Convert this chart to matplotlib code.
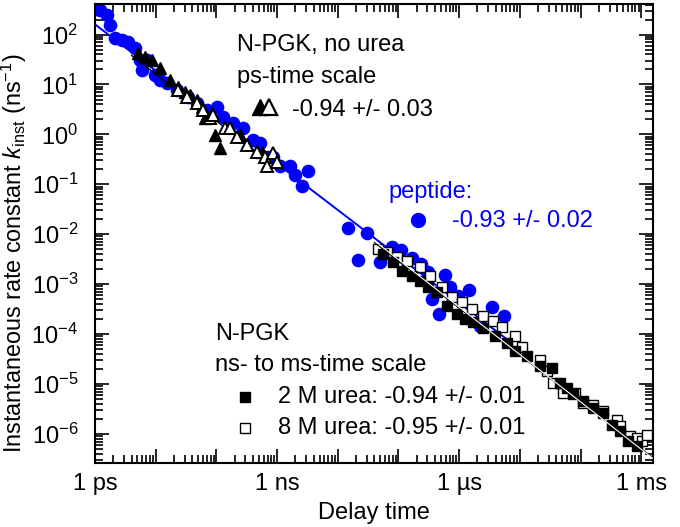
import numpy as np
import matplotlib
matplotlib.use("Agg")
import matplotlib.pyplot as plt
from matplotlib.ticker import FixedLocator, FuncFormatter, LogLocator, NullFormatter

plt.rcParams['font.family'] = ['Liberation Sans', 'DejaVu Sans']
plt.rcParams['mathtext.fontset'] = 'custom'
plt.rcParams['mathtext.rm'] = 'Liberation Sans'
plt.rcParams['mathtext.it'] = 'Liberation Sans:italic'
plt.rcParams['mathtext.default'] = 'regular'
plt.rcParams['axes.unicode_minus'] = False

# ---- data (time in ns, rate constant in ns^-1) ----
pep_t = [1.05e-3, 1.21e-3, 1.58e-3, 1.77e-3, 2.13e-3, 2.79e-3, 3.5e-3, 4.56e-3, 5.51e-3, 5.94e-3,
         7.19e-3, 9.73e-3, 1.18e-2, 1.53e-2, 2.24e-2, 3.4e-2, 4.79e-2, 7.0e-2, 0.102, 0.128,
         0.188, 0.274, 0.40, 0.52, 0.71, 0.855, 1.12, 1.63, 1.97, 3.23,
         2.57, 14.7, 30.3, 21.5, 49.5, 78, 110, 167, 235, 306,
         583, 356, 465, 705, 955, 1450, 3470, 5470, 2200]
pep_k = [330, 305, 242, 153, 84, 77, 70, 53, 31, 19.4,
         31, 15.5, 12.3, 10.7, 7.8, 5.6, 4.3, 3.1, 3.55, 2.25,
         1.71, 1.36, 0.78, 0.68, 0.36, 0.36, 0.228, 0.228, 0.157, 0.181,
         0.091, 0.0132, 0.0105, 3.05e-3, 2.78e-3, 5.5e-3, 4.8e-3, 3.3e-3, 2.5e-3, 1.76e-3,
         1.53e-3, 5.1e-4, 2.56e-4, 8.8e-4, 5.85e-4, 7.7e-4, 3.4e-4, 2.33e-4, 1.48e-4]

ps_filled_t = [5.1e-3, 6.67e-3, 8.7e-3, 1.18e-2, 1.72e-2, 2.33e-2, 3.04e-2, 3.67e-2, 4.79e-2, 5.8e-2,
               6.5e-2, 9.5e-2, 0.115, 8.5e-2, 0.245, 0.56]
ps_filled_k = [42.4, 35.3, 30.8, 21.3, 12.3, 8.9, 7.1, 6.2, 4.9, 3.55,
               2.15, 0.99, 0.54, 2.7, 0.99, 0.45]

ps_open_t = [2.33e-2, 3.28e-2, 4.79e-2, 6.0e-2, 7.85e-2, 8.8e-2, 0.139, 0.168, 0.218, 0.319,
             0.467, 0.632, 0.68, 0.855, 1.0]
ps_open_k = [7.8, 5.6, 4.3, 3.1, 2.15, 2.47, 1.36, 1.36, 0.90, 0.62,
             0.45, 0.36, 0.228, 0.43, 0.286]

urea2_t = [55.6, 81, 114, 167, 226, 306, 431, 630, 920, 1250,
           1690, 2470, 3890, 6130, 8300, 13100, 21400, 33800, 45800, 59700,
           75000, 1.1e5, 1.6e5, 2.34e5, 3.29e5, 4.46e5, 6.0e5, 8.5e5]
urea2_k = [4.0e-3, 2.78e-3, 1.84e-3, 1.46e-3, 1.16e-3, 8.8e-4, 7.0e-4, 3.7e-4, 2.56e-4, 2.04e-4,
           1.77e-4, 1.29e-4, 9.3e-5, 6.5e-5, 4.5e-5, 3.56e-5, 2.25e-5, 2.05e-5, 1.03e-5, 8.2e-6,
           6.2e-6, 4.5e-6, 3.3e-6, 2.6e-6, 1.5e-6, 1.14e-6, 7.2e-7, 5.7e-7]

urea8_t = [45.9, 64.6, 94.4, 138, 226, 330, 521, 760, 1110, 1630,
           2470, 3600, 5070, 8300, 10800, 21400, 27900, 35100, 51300, 80900,
           1.1e5, 1.6e5, 2.34e5, 3.98e5, 4.46e5, 6.5e5, 8.5e5, 1.03e6, 1.24e6]
urea8_k = [5.06e-3, 4.4e-3, 3.5e-3, 2.9e-3, 2.2e-3, 1.46e-3, 8.8e-4, 5.6e-4, 4.4e-4, 3.2e-4,
           2.33e-4, 1.86e-4, 1.41e-4, 9.3e-5, 5.6e-5, 2.96e-5, 1.79e-5, 1.03e-5, 6.5e-6, 6.5e-6,
           4.1e-6, 3.8e-6, 2.9e-6, 1.9e-6, 1.44e-6, 9.1e-7, 8.3e-7, 7.2e-7, 9.5e-7]

# power-law fits k = A * t^slope  (A, slope, t_start, t_end)
fit_pep = (0.26, -0.93, 1e-3, 6e3)
fit_ps = (0.213, -0.94, 4e-3, 1.0)
fit_u2 = (0.219, -0.94, 40, 3e6)
fit_u8 = (0.245, -0.95, 40, 3e6)

xtick_vals = [1e-3, 1, 1e3, 1e6]
xtick_labels = ['1 ps', '1 ns', '1 \u00b5s', '1 ms']

BLUE = '#0000ff'
FS = 17

fig = plt.figure(figsize=(6.8, 5.27), dpi=100)
ax = fig.add_axes([95/680, 1-463/527, 558/680, 459/527])
ax.set_xscale('log')
ax.set_yscale('log')
ax.set_xlim(1e-3, 1.56e6)
ax.set_ylim(2.6e-7, 410)

def fitline(p):
    A, s, t0, t1 = p
    t = np.logspace(np.log10(t0), np.log10(t1), 50)
    return t, A * t**s

ax.plot(pep_t, pep_k, 'o', ms=8.8, color=BLUE, mec=BLUE, zorder=2)
t, k = fitline(fit_pep)
ax.plot(t, k, '-', color=BLUE, lw=1.4, zorder=3)
t, k = fitline(fit_ps)
ax.plot(t, k, '-', color='black', lw=1.0, zorder=3)

ax.plot(ps_filled_t, ps_filled_k, '^', ms=8, color='black', zorder=4)
ax.plot(ps_open_t, ps_open_k, '^', ms=9, mfc='white', mec='black', mew=1.4, zorder=5)

ax.plot(urea8_t, urea8_k, 's', ms=7.5, mfc='white', mec='black', mew=1.0, zorder=4)
ax.plot(urea2_t, urea2_k, 's', ms=7.5, color='black', zorder=5)
t, k = fitline(fit_u2)
ax.plot(t, k, '-', color='black', lw=0.9, zorder=6)
t, k = fitline(fit_u8)
ax.plot(t, k, '-', color='white', lw=0.8, zorder=6)

# ticks
def xfmt(v, p):
    for a, lab in zip(xtick_vals, xtick_labels):
        if abs(np.log10(a) - np.log10(v)) < 0.01:
            return lab
    return ''

ax.xaxis.set_major_locator(FixedLocator([10.0**e for e in range(-3, 7)]))
ax.xaxis.set_major_formatter(FuncFormatter(xfmt))
ax.xaxis.set_minor_locator(LogLocator(base=10, subs=np.arange(2, 10), numticks=50))
ax.xaxis.set_minor_formatter(NullFormatter())
ax.yaxis.set_major_locator(LogLocator(base=10, numticks=20))
ax.yaxis.set_minor_locator(LogLocator(base=10, subs=np.arange(2, 10), numticks=50))
ax.yaxis.set_minor_formatter(NullFormatter())

ax.tick_params(which='both', direction='in', top=True, right=True, width=1.2, labelsize=FS)
ax.tick_params(which='major', length=10)
ax.tick_params(which='minor', length=5.5)
ax.tick_params(axis='x', which='major', pad=7)
ax.tick_params(axis='y', which='major', pad=12)
for s in ax.spines.values():
    s.set_linewidth(1.5)

ax.set_xlabel('Delay time', fontsize=FS, labelpad=5)
ax.set_ylabel(r'Instantaneous rate constant $\mathit{k}_{inst}$ (ns$^{-1}$)', fontsize=16.8)
ax.yaxis.set_label_coords(-0.118, 0.458)

# annotations
tr = ax.transAxes
ax.text(0.2545, 0.9107, 'N-PGK, no urea', transform=tr, fontsize=FS, va='center')
ax.text(0.2545, 0.841, 'ps-time scale', transform=tr, fontsize=FS, va='center')
ax.plot([0.2957], [0.7756], '^', ms=11, color='black', transform=tr, clip_on=False)
ax.plot([0.3118], [0.7756], '^', ms=11, mfc='white', mec='black', mew=1.6, transform=tr, clip_on=False)
ax.text(0.353, 0.769, '-0.94 +/- 0.03', transform=tr, fontsize=FS, va='center')

ax.text(0.525, 0.590, 'peptide:', transform=tr, fontsize=FS, va='center', color=BLUE)
ax.plot([0.579], [0.529], 'o', ms=10, color=BLUE, transform=tr, clip_on=False)
ax.text(0.640, 0.527, '-0.93 +/- 0.02', transform=tr, fontsize=FS, va='center', color=BLUE)

ax.text(0.215, 0.281, 'N-PGK', transform=tr, fontsize=FS, va='center')
ax.text(0.215, 0.2135, 'ns- to ms-time scale', transform=tr, fontsize=FS, va='center')
ax.plot([0.2688], [0.1438], 's', ms=7, color='black', transform=tr)
ax.plot([0.2688], [0.0763], 's', ms=7, mfc='white', mec='black', mew=1.0, transform=tr)
ax.text(0.328, 0.1438, '2 M urea: -0.94 +/- 0.01', transform=tr, fontsize=FS, va='center')
ax.text(0.328, 0.0763, '8 M urea: -0.95 +/- 0.01', transform=tr, fontsize=FS, va='center')

fig.savefig('out.png', dpi=100)
